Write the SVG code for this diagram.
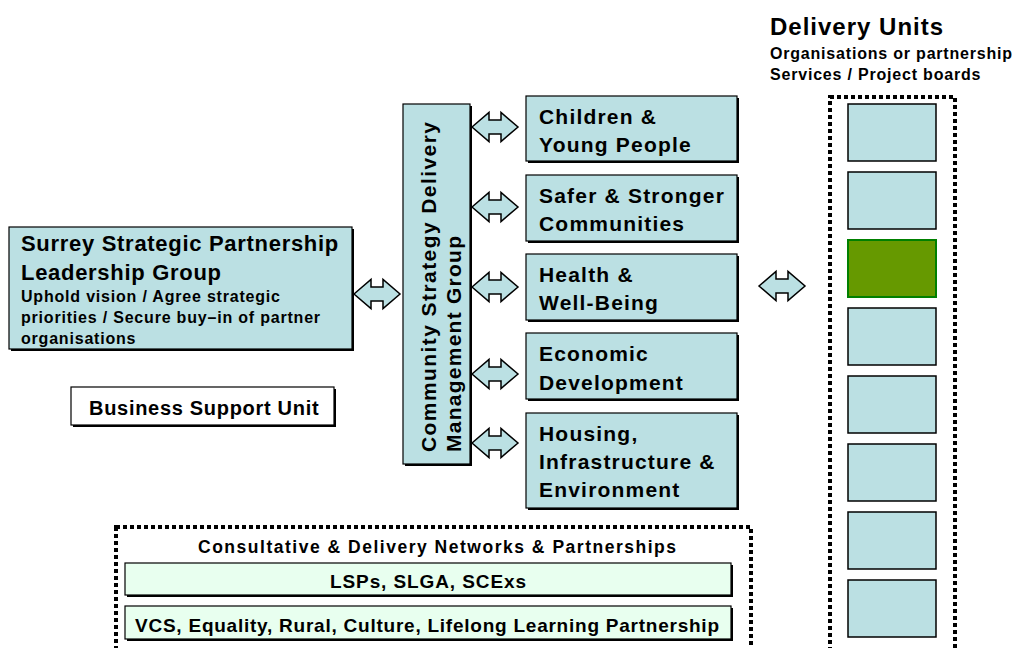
<svg xmlns="http://www.w3.org/2000/svg" width="1015" height="648" viewBox="0 0 1015 648">
<style>
text{font-family:"Liberation Sans",Arial,sans-serif;font-weight:bold;fill:#000}
.box{fill:#BBE0E3;stroke:#000;stroke-width:1.2}
.sh{fill:#000}
.t22{font-size:22px;letter-spacing:0.7px}
.t15{font-size:16px;letter-spacing:0.8px}
.t21{font-size:21px;letter-spacing:1.2px}
.t20{font-size:20px;letter-spacing:0.7px}
.arr{fill:#BBE0E3;stroke:#000;stroke-width:1.5;stroke-linejoin:miter}
.dot{fill:none;stroke:#000;stroke-width:4;stroke-dasharray:4 3}
.bar{fill:#E8FFEF;stroke:#000;stroke-width:1.2}
.unit{fill:#BBE0E3;stroke:#000;stroke-width:1.5}
</style>
<defs>
<path id="dbl" d="M-23,0 L-6,-14.5 L-6,-7 L6,-7 L6,-14.5 L23,0 L6,14.5 L6,7 L-6,7 L-6,14.5 Z"/>
</defs>

<g id="connectors">
<use href="#dbl" class="arr" x="377" y="294"/>
<use href="#dbl" class="arr" x="495" y="127"/>
<use href="#dbl" class="arr" x="495" y="207"/>
<use href="#dbl" class="arr" x="495" y="287"/>
<use href="#dbl" class="arr" x="495" y="374"/>
<use href="#dbl" class="arr" x="495" y="443"/>
<use href="#dbl" class="arr" x="782" y="286"/>
</g>

<g id="leadership">
<rect class="sh" x="11" y="229" width="343" height="122"/>
<rect class="box" x="9" y="227" width="343" height="122"/>
<text class="t22" x="21" y="251">Surrey Strategic Partnership</text>
<text class="t22" x="21" y="280">Leadership Group</text>
<text class="t15" x="21" y="302">Uphold vision / Agree strategic</text>
<text class="t15" x="21" y="323">priorities / Secure buy–in of partner</text>
<text class="t15" x="21" y="344">organisations</text>
</g>

<g id="business-support">
<rect class="sh" x="73" y="389" width="263" height="38"/>
<rect x="71" y="387" width="263" height="38" fill="#fff" stroke="#000" stroke-width="1.2"/>
<text class="t20" x="89" y="415">Business Support Unit</text>
</g>

<g id="management-group">
<rect class="sh" x="405" y="106" width="67" height="360"/>
<rect class="box" x="403" y="104" width="67" height="360"/>
<text font-size="21" transform="translate(436,452) rotate(-90)" textLength="330" lengthAdjust="spacing">Community Strategy Delivery</text>
<text font-size="21" transform="translate(461,452) rotate(-90)" textLength="216" lengthAdjust="spacing">Management Group</text>
</g>

<g id="children">
<rect class="sh" x="528" y="98" width="211" height="65"/>
<rect class="box" x="526" y="96" width="211" height="65"/>
<text class="t21" x="539" y="124">Children &amp;</text>
<text class="t21" x="539" y="152">Young People</text>
</g>

<g id="safer">
<rect class="sh" x="528" y="177" width="211" height="66"/>
<rect class="box" x="526" y="175" width="211" height="66"/>
<text class="t21" x="539" y="203">Safer &amp; Stronger</text>
<text class="t21" x="539" y="231">Communities</text>
</g>

<g id="health">
<rect class="sh" x="528" y="256" width="211" height="66"/>
<rect class="box" x="526" y="254" width="211" height="66"/>
<text class="t21" x="539" y="282">Health &amp;</text>
<text class="t21" x="539" y="310">Well-Being</text>
</g>

<g id="economic">
<rect class="sh" x="528" y="335" width="211" height="66"/>
<rect class="box" x="526" y="333" width="211" height="66"/>
<text class="t21" x="539" y="361">Economic</text>
<text class="t21" x="539" y="390">Development</text>
</g>

<g id="housing">
<rect class="sh" x="528" y="415" width="211" height="95"/>
<rect class="box" x="526" y="413" width="211" height="95"/>
<text class="t21" x="539" y="441">Housing,</text>
<text class="t21" x="539" y="469">Infrastructure &amp;</text>
<text class="t21" x="539" y="497">Environment</text>
</g>

<g id="delivery-units">
<text x="770" y="35" font-size="24" letter-spacing="1">Delivery Units</text>
<text x="770" y="59" font-size="16" letter-spacing="0.8">Organisations or partnership</text>
<text x="770" y="80" font-size="16" letter-spacing="0.8">Services / Project boards</text>
<rect class="dot" x="830" y="97" width="125" height="600"/>
<rect class="unit" x="848" y="104" width="88" height="57"/>
<rect class="unit" x="848" y="172" width="88" height="57"/>
<rect x="848" y="240" width="88" height="57" fill="#669900" stroke="#008000" stroke-width="2"/>
<rect class="unit" x="848" y="308" width="88" height="57"/>
<rect class="unit" x="848" y="376" width="88" height="57"/>
<rect class="unit" x="848" y="444" width="88" height="57"/>
<rect class="unit" x="848" y="512" width="88" height="57"/>
<rect class="unit" x="848" y="580" width="88" height="57"/>
</g>

<g id="networks">
<rect class="dot" x="116" y="527" width="635" height="200"/>
<text x="437" y="553" font-size="17.5" text-anchor="middle" textLength="478" lengthAdjust="spacing">Consultative &amp; Delivery Networks &amp; Partnerships</text>
<rect class="sh" x="127" y="565" width="606" height="32"/>
<rect class="bar" x="125" y="563" width="606" height="32"/>
<text x="428" y="588" font-size="19" text-anchor="middle" textLength="196" lengthAdjust="spacing">LSPs, SLGA, SCExs</text>
<rect class="sh" x="127" y="608" width="606" height="33"/>
<rect class="bar" x="125" y="606" width="606" height="33"/>
<text x="427" y="632" font-size="19" text-anchor="middle" textLength="584" lengthAdjust="spacing">VCS, Equality, Rural, Culture, Lifelong Learning Partnership</text>
</g>
</svg>
